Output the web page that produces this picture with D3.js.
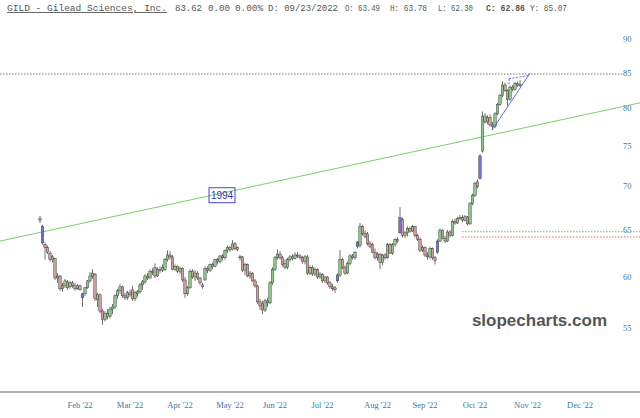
<!DOCTYPE html>
<meta charset="utf-8">
<style>
body { margin: 0; background: #fff; }
svg { display: block; }
.hdr { font-family: "Liberation Mono", "Courier New", monospace; font-size: 9px; fill: #555; }
.axis text { font-family: "Liberation Serif", "Times New Roman", serif; font-size: 8.5px; fill: #3d78a8; }
</style>
<svg width="640" height="418"></svg>
<script src="https://d3js.org/d3.v7.min.js"></script>
<script>

// daily candles, [open, high, low, close]
var candles = [
  [66.3,66.8,66.0,66.5],[65.6,65.8,63.6,63.8],[63.6,63.9,62.0,63.3],[63.3,63.5,62.6,62.8],[62.7,62.9,61.8,62.0],
  [62.0,62.5,61.7,62.3],[62.1,62.2,59.9,60.1],[60.1,60.6,59.6,60.3],[60.3,60.4,58.8,59.0],[59.0,59.6,58.7,59.3],
  [59.3,60.0,59.1,59.8],[59.7,59.9,58.9,59.1],[59.2,59.8,59.0,59.6],[59.6,59.8,59.1,59.3],[59.3,59.6,58.8,59.0],
  [59.0,59.5,58.9,59.3],[59.3,59.4,58.8,58.9],[58.1,58.6,57.2,58.5],[58.5,59.2,58.3,59.1],[59.1,59.9,59.0,59.8],
  [59.8,60.7,59.6,60.3],[60.3,61.0,60.0,60.6],[60.5,60.6,57.8,58.0],[57.9,58.6,57.2,58.4],[58.4,58.5,56.6,56.8],
  [56.8,57.0,55.5,56.0],[56.0,56.8,55.8,56.6],[56.6,57.0,56.0,56.3],[56.3,57.2,56.1,57.0],[57.0,57.5,56.5,57.2],
  [57.2,58.5,57.0,58.3],[58.3,59.0,58.0,58.8],[58.8,59.5,58.5,59.2],[59.2,59.3,58.1,58.3],[58.3,58.6,57.9,58.1],
  [58.1,58.8,57.9,58.6],[58.6,58.9,58.2,58.4],[58.9,59.3,57.8,58.0],[58.0,58.8,57.8,58.6],[58.5,58.9,58.2,58.7],
  [58.7,59.6,58.5,59.4],[59.4,59.9,58.9,59.7],[59.7,60.5,59.5,60.3],[60.3,60.6,59.9,60.1],[60.1,61.0,60.0,60.8],
  [60.8,61.1,60.4,60.7],[61.2,61.6,60.1,60.3],[60.3,61.2,60.2,61.0],[61.0,61.3,60.6,60.9],[60.9,61.5,60.7,61.2],
  [61.0,62.2,60.8,62.0],[62.0,63.0,61.8,62.5],[62.5,62.9,62.0,62.3],[62.3,62.5,60.9,61.0],[61.0,61.5,60.8,61.3],
  [61.3,61.4,60.6,60.8],[60.8,61.3,60.5,61.1],[61.1,61.2,59.7,59.9],[59.9,60.2,58.1,58.5],[58.5,59.3,58.3,59.1],
  [59.1,61.0,59.0,60.8],[60.8,61.0,60.0,60.2],[60.2,60.9,59.8,60.6],[60.6,60.8,59.9,60.1],[60.1,60.2,59.4,59.6],
  [59.4,59.6,59.0,59.2],[59.9,61.3,59.8,61.1],[61.1,61.3,60.6,60.9],[60.9,61.6,60.7,61.5],[61.5,61.7,61.0,61.3],
  [61.3,62.1,61.2,62.0],[62.0,62.2,61.5,61.8],[61.8,62.5,61.6,62.4],[62.4,62.6,61.9,62.2],[62.2,63.1,62.0,63.0],
  [63.0,63.5,62.7,63.3],[63.3,63.5,62.8,63.1],[63.1,64.1,63.0,63.7],[63.7,63.9,63.0,63.2],[63.3,63.4,62.9,63.1],
  [62.2,62.5,61.9,62.3],[62.3,62.4,60.7,60.9],[60.9,61.7,60.4,61.5],[61.5,61.6,60.2,60.3],[60.3,60.8,60.0,60.6],
  [60.6,60.7,59.7,59.8],[59.8,60.0,59.1,59.3],[59.3,59.4,57.5,57.7],[57.7,58.0,56.9,57.3],[57.5,57.8,56.5,56.9],
  [56.9,58.0,56.7,57.8],[57.8,58.1,57.2,57.6],[57.6,59.8,57.5,59.6],[59.6,61.2,59.4,61.0],[61.0,62.4,60.8,62.2],
  [62.2,63.1,62.0,62.6],[62.6,62.9,62.0,62.2],[62.2,62.4,61.3,61.5],[61.6,62.0,61.0,61.2],[61.2,62.2,61.0,62.0],
  [62.0,62.5,61.8,62.3],[62.3,62.6,61.9,62.1],[62.1,62.8,62.0,62.5],[62.5,62.8,62.2,62.4],[62.4,62.6,62.0,62.2],
  [62.2,62.4,61.6,61.8],[61.8,62.5,61.5,62.3],[62.3,62.5,60.4,60.6],[60.6,61.4,60.4,61.2],[61.2,61.4,60.3,60.5],
  [60.5,61.2,60.3,61.0],[61.0,61.1,60.0,60.2],[60.2,60.7,60.0,60.5],[60.5,60.6,59.6,59.8],[59.8,60.3,59.6,60.2],
  [60.2,60.3,59.4,59.6],[59.6,59.8,59.0,59.2],[59.2,59.5,58.8,59.0],[59.1,59.3,58.6,58.9],[59.8,60.6,59.6,60.4],
  [60.4,63.0,60.2,62.0],[62.0,62.2,61.0,61.2],[61.2,61.4,60.4,60.6],[60.6,61.8,60.5,61.6],[61.6,62.6,61.4,62.4],
  [62.4,62.6,62.0,62.2],[62.2,62.9,62.0,62.8],[63.9,64.0,63.2,63.4],[63.5,66.0,63.3,65.6],[65.6,65.8,64.6,64.8],
  [64.8,65.2,64.3,64.5],[64.8,65.0,63.5,63.7],[63.7,64.0,63.2,63.4],[63.6,63.8,62.7,62.8],[62.8,63.2,62.0,62.2],
  [62.2,62.8,61.9,62.6],[62.6,62.7,61.0,61.7],[61.7,62.6,61.4,62.5],[62.5,62.7,62.0,62.2],[62.2,63.8,62.1,63.6],
  [63.6,63.8,62.6,62.7],[62.7,63.8,62.5,63.6],[63.6,64.3,63.4,64.2],[64.2,64.4,63.8,64.0],[64.9,67.8,64.8,66.6],
  [66.4,66.6,64.4,64.6],[64.6,65.1,64.3,64.9],[64.9,65.6,64.5,65.4],[65.4,65.6,64.9,65.1],[65.1,65.8,65.0,65.6],
  [65.6,65.7,64.4,64.6],[64.6,64.8,64.0,64.2],[64.2,64.4,62.8,63.0],[63.0,63.5,62.8,63.3],[63.3,63.4,62.3,62.5],
  [62.5,62.8,62.0,62.3],[62.3,63.4,62.1,63.2],[63.2,63.3,62.0,62.2],[62.2,62.4,61.5,61.9],[62.8,64.2,62.6,64.0],
  [64.0,65.4,63.9,65.2],[65.2,65.3,64.2,64.3],[64.3,64.6,63.8,64.0],[64.0,65.2,63.9,65.0],[65.0,65.2,64.4,64.6],
  [64.6,66.4,64.5,66.2],[66.2,66.5,65.8,66.0],[66.0,66.7,65.9,66.5],[66.5,66.9,66.3,66.6],[66.6,66.9,66.1,66.3],
  [66.3,66.9,66.2,66.7],[66.7,66.8,65.7,65.9],[65.9,68.4,65.8,68.2],[68.2,69.4,68.0,69.2],[69.2,70.8,69.0,70.6],
  [70.8,71.1,70.0,70.2],[71.2,74.2,71.1,74.0],[74.6,79.8,74.4,79.2],[79.2,79.6,78.2,78.4],[78.4,79.3,78.1,79.0],
  [79.0,79.4,77.8,78.0],[78.0,78.4,77.3,77.8],[77.8,79.7,77.6,79.5],[79.5,81.0,79.3,80.8],[80.8,82.2,80.6,82.0],
  [82.0,84.0,81.8,83.5],[83.5,83.8,82.5,82.7],[82.7,82.9,80.6,81.5],[81.5,83.4,81.3,83.2],[83.2,83.5,82.6,82.9],
  [82.9,83.9,82.7,83.7],[83.7,84.0,83.2,83.4],[83.4,84.2,83.2,83.6]
];

var monthLabels = ["Feb '22", "Mar '22", "Apr '22", "May '22", "Jun '22", "Jul '22",
                   "Aug '22", "Sep '22", "Oct '22", "Nov '22", "Dec '22"];
var monthIdx = [16, 36, 56, 76, 94, 113, 135, 154, 174, 195, 216];
var priceTicks = [55, 60, 65, 70, 75, 80, 85, 90];

// drawn annotations, as [index, price]
var trendLine = [[-16, 64.0], [240, 81.0]];
var trendLabel = { idx: 72.8, price: 69.2, text: "1994" };
var cursorPrice = 85.07;
var supportGreen = 65.03;
var supportRed = 64.45;
var wedgeLow = [[181.2, 77.5], [196, 85.2]];
var wedgeTop = [[187.6, 84.4], [195.2, 84.85]];
var wedgeSide = [[187.6, 84.4], [187.6, 83.6]];

var svg = d3.select("svg"),
    width = +svg.attr("width"),
    height = +svg.attr("height");

svg.append("rect").attr("width", width).attr("height", height).attr("fill", "#fff");

var x = d3.scaleLinear().domain([0, candles.length - 1]).range([40, 520]);
var y = d3.scaleLog().domain([55, 90]).range([330, 41]);

// header, each piece pinned to where it sits in the original
var hdrParts = [
  { t: "GILD - Gilead Sciences, Inc.", x: 7, w: 160, fill: "#3d3d99", ul: true },
  { t: "83.62", x: 175, w: 27 },
  { t: "0.00", x: 208, w: 22, fill: "#2f9a2f" },
  { t: "0.00%", x: 235, w: 28, fill: "#2f9a2f" },
  { t: "D: 09/23/2022", x: 268, w: 70 },
  { t: "O: 63.49", x: 345, w: 35 },
  { t: "H: 63.78", x: 390, w: 37 },
  { t: "L: 62.30", x: 438, w: 35 },
  { t: "C: 62.86", x: 486, w: 39, bold: true, fill: "#333" },
  { t: "Y: 85.07", x: 530, w: 37 }
];
svg.append("g").selectAll("text").data(hdrParts).enter().append("text")
   .attr("class", "hdr")
   .attr("x", function(d) { return d.x; })
   .attr("y", 11)
   .attr("textLength", function(d) { return d.w; })
   .attr("lengthAdjust", "spacingAndGlyphs")
   .attr("fill", function(d) { return d.fill || "#555"; })
   .attr("font-weight", function(d) { return d.bold ? "bold" : null; })
   .attr("text-decoration", function(d) { return d.ul ? "underline" : null; })
   .text(function(d) { return d.t; });

// watermark
svg.append("text")
   .attr("x", 607).attr("y", 326)
   .attr("text-anchor", "end")
   .attr("font-family", "Liberation Sans, Arial, sans-serif")
   .attr("font-weight", "bold")
   .attr("font-size", "17px")
   .attr("fill", "#555")
   .text("slopecharts.com");

// y axis labels
svg.append("g").attr("class", "axis")
   .selectAll("text").data(priceTicks).enter().append("text")
   .attr("x", 623)
   .attr("y", function(d) { return y(d) + 1; })
   .text(function(d) { return d; });

// x axis
svg.append("line").attr("x1", 0).attr("x2", width).attr("y1", 392).attr("y2", 392)
   .attr("stroke", "#999").attr("stroke-width", 1.5);
svg.append("g").attr("class", "axis")
   .selectAll("text").data(monthLabels).enter().append("text")
   .attr("x", function(d, i) { return x(monthIdx[i]); })
   .attr("y", 408)
   .attr("text-anchor", "middle")
   .text(function(d) { return d; });

var line = d3.line().x(function(d) { return x(d[0]); }).y(function(d) { return y(d[1]); });

// cursor line
svg.append("line").attr("x1", 0).attr("x2", 624)
   .attr("y1", y(cursorPrice)).attr("y2", y(cursorPrice))
   .attr("stroke", "#555").attr("stroke-width", 0.8).attr("stroke-dasharray", "1.5,1.5");

// support levels
svg.append("line").attr("x1", 462).attr("x2", width)
   .attr("y1", y(supportGreen)).attr("y2", y(supportGreen))
   .attr("stroke", "#55c055").attr("stroke-width", 0.9).attr("stroke-dasharray", "1.5,1.5");
svg.append("line").attr("x1", 462).attr("x2", width)
   .attr("y1", y(supportRed)).attr("y2", y(supportRed))
   .attr("stroke", "#e05050").attr("stroke-width", 0.9).attr("stroke-dasharray", "1.5,1.5");

// long trendline
svg.append("path").datum(trendLine).attr("d", line)
   .attr("fill", "none").attr("stroke", "#66cc55").attr("stroke-width", 0.9);

var lx = x(trendLabel.idx), ly = y(trendLabel.price);
svg.append("rect").attr("x", lx - 13).attr("y", ly - 7.5).attr("width", 26).attr("height", 15)
   .attr("fill", "none").attr("stroke", "#4444dd").attr("stroke-width", 1);
svg.append("text").attr("x", lx).attr("y", ly + 3.5)
   .attr("text-anchor", "middle")
   .attr("font-family", "Liberation Sans, Arial, sans-serif")
   .attr("font-size", "10px").attr("fill", "#3333bb")
   .text(trendLabel.text);

// candles
var g = svg.append("g");
candles.forEach(function(c, i) {
  var o = c[0], h = c[1], l = c[2], cl = c[3];
  var prev = i > 0 ? candles[i - 1][3] : o;
  var gap = Math.abs(o / prev - 1) >= 0.013;
  var fill = gap ? "#7272e6" : (cl >= o ? "#86cc86" : "#d99a9a");
  var cx = x(i);
  g.append("line").attr("x1", cx).attr("x2", cx).attr("y1", y(h)).attr("y2", y(l))
   .attr("stroke", "#333").attr("stroke-width", 0.7);
  var top = y(Math.max(o, cl)), bot = y(Math.min(o, cl));
  g.append("rect").attr("x", cx - 1.2).attr("y", top)
   .attr("width", 2.4).attr("height", Math.max(0.8, bot - top))
   .attr("fill", fill).attr("stroke", "#333").attr("stroke-width", 0.45);
});

// wedge
svg.append("path").datum(wedgeLow).attr("d", line)
   .attr("fill", "none").attr("stroke", "#4444dd").attr("stroke-width", 0.8);
svg.append("path").datum(wedgeTop).attr("d", line)
   .attr("fill", "none").attr("stroke", "#4444dd").attr("stroke-width", 0.8).attr("stroke-dasharray", "2,1.5");
svg.append("path").datum(wedgeSide).attr("d", line)
   .attr("fill", "none").attr("stroke", "#4444dd").attr("stroke-width", 0.8).attr("stroke-dasharray", "2,1.5");

</script>
